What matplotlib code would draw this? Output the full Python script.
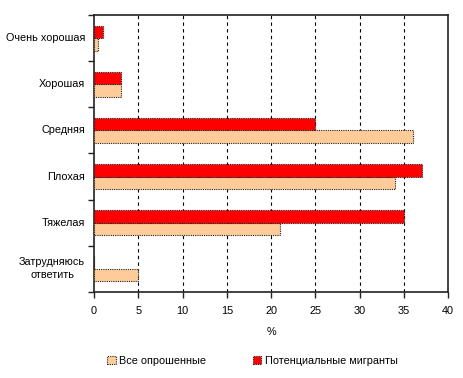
import numpy as np
import matplotlib
matplotlib.use("Agg")
import matplotlib.pyplot as plt

plt.rcParams['font.family'] = ['Liberation Sans', 'DejaVu Sans']

# Data
categories = ["Очень хорошая", "Хорошая", "Средняя", "Плохая", "Тяжелая", "Затрудняюсь\nответить"]
all_respondents = [0.5, 3, 36, 34, 21, 5]
potential_migrants = [1, 3, 25, 37, 35, 0]
series_names = ["Все опрошенные", "Потенциальные мигранты"]

# Colours
peach = "#FFCC99"
red = "#FF0000"

fig = plt.figure(figsize=(4.63, 3.78), dpi=100)
ax = fig.add_axes([0.203, 0.228, 0.765, 0.732])

y = np.arange(len(categories))
h = 0.27
edge = dict(edgecolor="#222222", linewidth=0.8, linestyle=(0, (1, 1)))
ax.barh(y + h / 2, all_respondents, height=h, color=peach, label=series_names[0], zorder=3, **edge)
ax.barh(y - h / 2, potential_migrants, height=h, color=red, label=series_names[1], zorder=3, **edge)

ax.set_ylim(len(categories) - 0.5, -0.5)
ax.set_xlim(0, 40)
ax.set_xticks(range(0, 41, 5))
ax.set_xticklabels([str(v) for v in range(0, 41, 5)], fontsize=7.8)

# Category labels placed between boundary ticks
ax.set_yticks(np.arange(-0.5, len(categories), 1))
ax.set_yticklabels([])
ax.tick_params(axis="y", length=4, width=1, color="#222222")
ax.tick_params(axis="x", length=4, width=1, color="#222222", pad=6)
for i, cat in enumerate(categories):
    ax.text(-1.0, i, cat, ha="right", va="center", fontsize=7.8, multialignment="center",
            linespacing=1.4)

for x in range(5, 40, 5):
    ax.axvline(x, color="black", linestyle=(0, (3, 3)), linewidth=0.8, zorder=1)

for s in ax.spines.values():
    s.set_color("#222222")
    s.set_linewidth(1.2)

ax.set_xlabel("%", fontsize=7.8, labelpad=8)

handles, labels = ax.get_legend_handles_labels()
fig.legend(handles, labels, loc="center", bbox_to_anchor=(0.545, 0.045), ncol=2, frameon=False,
           fontsize=7.8, handlelength=0.8, handleheight=0.8, handletextpad=0.3, columnspacing=4.3)

fig.savefig("out.png", dpi=100)
